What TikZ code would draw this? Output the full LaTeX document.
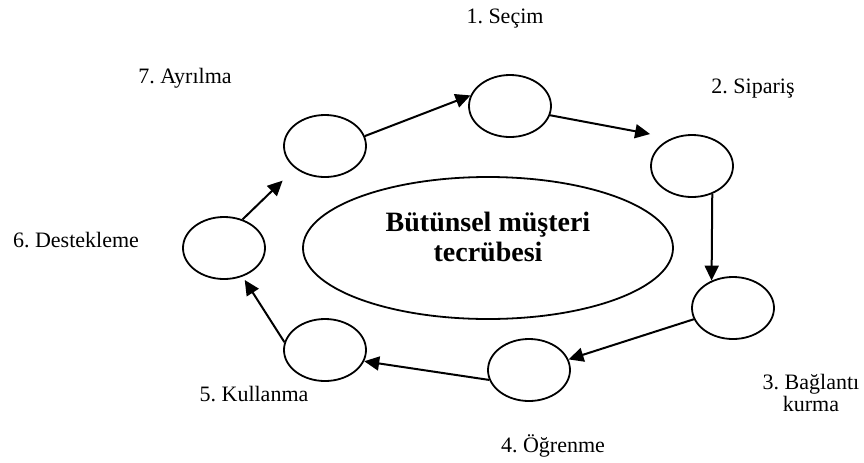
\documentclass[tikz,border=0pt]{standalone}
\usepackage{fontspec}
\setmainfont{Liberation Serif}
\usetikzlibrary{shapes.geometric,arrows.meta}
\frenchspacing
\begin{document}
\begin{tikzpicture}[x=0.5pt,y=-0.5pt,
  stage/.style={draw,ellipse,line width=0.9pt,minimum width=41pt,minimum height=31pt,inner sep=0pt},
  core/.style={draw,ellipse,line width=0.9pt,minimum width=185pt,minimum height=71pt,inner sep=0pt},
  flow/.style={line width=1pt,-{Triangle[length=7.5pt,width=7pt]}},
  lbl/.style={font=\fontsize{11}{13}\selectfont,inner sep=0pt,anchor=base}]
\useasboundingbox (0,0) rectangle (864,462);

% central ellipse and its title
\node[core] (hub) at (488,248) {};
\node[font=\fontsize{14}{15}\selectfont\bfseries,align=center,inner sep=0pt] (hubtext) at (488,237.4) {Bütünsel müşteri\\tecrübesi};

% the seven stages around it
\node[stage] (e1) at (510,106) {};
\node[stage] (e2) at (692,166) {};
\node[stage] (e3) at (733,308) {};
\node[stage] (e4) at (529,370) {};
\node[stage] (e5) at (325,350) {};
\node[stage] (e6) at (224,248) {};
\node[stage] (e7) at (325,146) {};

% stage names
\node[lbl] (l1) at (505,23) {1. Seçim};
\node[lbl] (l2) at (753,93) {2. Sipariş};
\node[font=\fontsize{11}{9.2}\selectfont,align=center,inner sep=0pt,anchor=south] (l3) at (811,411.7) {3. Bağlantı\\kurma};
\node[lbl] (l4) at (553,452) {4. Öğrenme};
\node[lbl] (l5) at (254,401) {5. Kullanma};
\node[lbl] (l6) at (76,247) {6. Destekleme};
\node[lbl] (l7) at (185,83) {7. Ayrılma};

% cycle of arrows
\draw[flow] (e7.14) -- (e1.165);
\draw[flow,shorten >=11pt] (e1.347) -- (e2.126);
\draw[flow] (e2.306.5) -- (e3.128);
\draw[flow] (e3.196) -- (e4.15);
\draw[flow] (e4.194) -- (e5.344);
\draw[flow,shorten >=2pt] (e5.169) -- (e6.303);
\draw[flow,shorten >=8.75pt] (e6.57) -- (e7.217);
\end{tikzpicture}
\end{document}
